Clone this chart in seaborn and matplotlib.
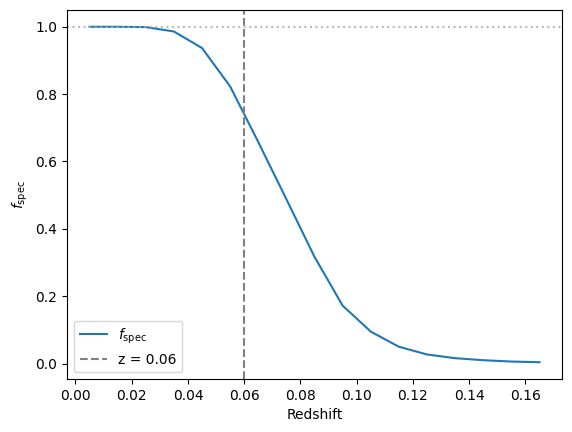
import numpy as np
import pandas as pd
import matplotlib
matplotlib.use("Agg")
import matplotlib.pyplot as plt
import seaborn as sns

# spectroscopic completeness vs redshift
redshift = [0.005, 0.015, 0.025, 0.035, 0.045, 0.055, 0.065, 0.075, 0.085,
            0.095, 0.105, 0.115, 0.125, 0.135, 0.145, 0.155, 0.165]
f_spec = [1.0, 1.0, 0.999, 0.986, 0.937, 0.823, 0.658, 0.488, 0.317,
          0.172, 0.095, 0.050, 0.027, 0.016, 0.010, 0.006, 0.004]
z_cut = 0.06

df = pd.DataFrame({"Redshift": redshift, "f_spec": f_spec})

fig, ax = plt.subplots(figsize=(5.72, 4.32), dpi=100)
fig.subplots_adjust(left=67/572, right=562/572, top=1-10/432, bottom=1-379/432)

sns.lineplot(data=df, x="Redshift", y="f_spec", ax=ax, color="#1f77b4",
             label=r"$f_{\rm spec}$")
ax.axvline(z_cut, color="gray", ls="--", label=f"z = {z_cut}")
ax.axhline(1.0, color="darkgray", ls=":", alpha=0.8)

ax.set_xlabel("Redshift")
ax.set_ylabel(r"$f_{\rm spec}$")
ax.legend(loc="lower left")

fig.savefig("out.png", dpi=100)
